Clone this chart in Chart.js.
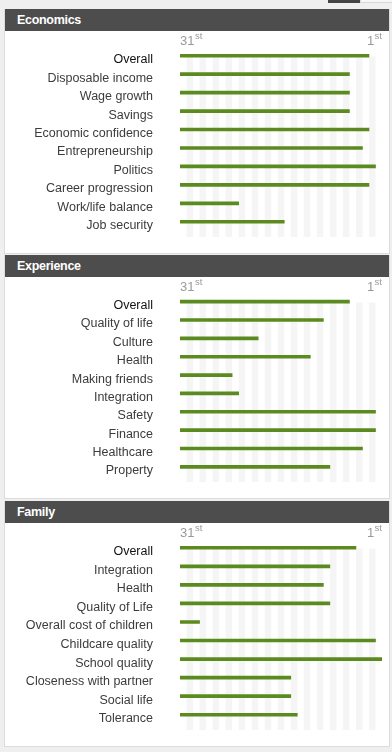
<!DOCTYPE html>
<html>
<head>
<meta charset="utf-8">
<script src="https://cdn.jsdelivr.net/npm/chart.js@4"></script>
<style>
  body { margin: 0; background: #efefef; width: 392px; height: 752px; overflow: hidden; font-family: "Liberation Sans", Arial, sans-serif; position: relative; }
  .tab { position: absolute; top: 0; left: 328px; width: 32px; height: 3px; background: #444; }
  .tab2 { position: absolute; top: 0; left: 360px; width: 32px; height: 2px; border: 1px solid #d8d8d8; border-top: 0; background: #f6f6f6; }
  .panel { position: absolute; left: 4px; width: 386px; background: #fff; border: 1px solid #dcdcdc; border-top: 0; box-sizing: border-box; }
  .panel h2 { margin: 0; height: 22px; line-height: 22px; background: #4d4d4d; color: #fff; font-size: 12.5px; font-weight: bold; padding-left: 12px; letter-spacing: -0.3px; }
  .panel canvas { display: block; }
</style>
</head>
<body>
<div class="tab"></div><div class="tab2"></div>
<div class="panel" style="top:9px"><h2>Economics</h2><canvas id="economics" width="384" height="222"></canvas></div>
<div class="panel" style="top:255px"><h2>Experience</h2><canvas id="experience" width="384" height="221"></canvas></div>
<div class="panel" style="top:501px"><h2>Family</h2><canvas id="family" width="384" height="223"></canvas></div>
<script>
// ranks out of 31 countries (1 = best)
const economicsLabels = ["Overall", "Disposable income", "Wage growth", "Savings", "Economic confidence",
  "Entrepreneurship", "Politics", "Career progression", "Work/life balance", "Job security"];
const economicsRanks = [3, 6, 6, 6, 3, 4, 2, 3, 23, 16];

const experienceLabels = ["Overall", "Quality of life", "Culture", "Health", "Making friends",
  "Integration", "Safety", "Finance", "Healthcare", "Property"];
const experienceRanks = [6, 10, 20, 12, 24, 23, 2, 2, 4, 9];

const familyLabels = ["Overall", "Integration", "Health", "Quality of Life", "Overall cost of children",
  "Childcare quality", "School quality", "Closeness with partner", "Social life", "Tolerance"];
const familyRanks = [5, 9, 10, 9, 29, 2, 1, 15, 15, 14];

const rankTicks = ["31", "1"];
const rankSuffix = "st";
const countries = 31;

const green = '#5b8a1f';

// light vertical stripes, one per rank
const stripes = {
  id: 'stripes',
  beforeDatasetsDraw(chart) {
    const {ctx, chartArea, scales: {x}} = chart;
    ctx.save();
    ctx.fillStyle = '#f5f5f5';
    for (let i = 1; i < countries; i += 2) {
      const x0 = x.getPixelForValue(i);
      const x1 = x.getPixelForValue(i + 1);
      ctx.fillRect(x0, chartArea.top + 10, x1 - x0, chartArea.bottom - chartArea.top - 4);
    }
    ctx.restore();
  }
};

// "31st" ... "1st" above the plot
const rankLabels = {
  id: 'rankLabels',
  afterDraw(chart) {
    const {ctx, scales: {x}} = chart;
    const y = 14;
    ctx.save();
    ctx.fillStyle = '#9a9a9a';
    ctx.textBaseline = 'alphabetic';
    // left
    ctx.textAlign = 'left';
    ctx.font = '13px "Liberation Sans", Arial';
    let left = x.getPixelForValue(0);
    ctx.fillText(rankTicks[0], left, y);
    let w = ctx.measureText(rankTicks[0]).width;
    ctx.font = '9.5px "Liberation Sans", Arial';
    ctx.fillText(rankSuffix, left + w + 0.5, y - 6);
    // right
    ctx.textAlign = 'right';
    const right = x.getPixelForValue(countries);
    ctx.fillText(rankSuffix, right, y - 6);
    const sw = ctx.measureText(rankSuffix).width;
    ctx.font = '13px "Liberation Sans", Arial';
    ctx.fillText(rankTicks[1], right - sw - 0.5, y);
    ctx.restore();
  }
};

function makeChart(id, labels, ranks) {
  return new Chart(document.getElementById(id), {
    type: 'bar',
    data: {
      labels: labels,
      datasets: [{
        data: ranks.map(r => countries + 1 - r),
        backgroundColor: green,
        barThickness: 3,
        borderWidth: 0
      }]
    },
    options: {
      indexAxis: 'y',
      responsive: false,
      animation: false,
      layout: { padding: { top: 15.5, right: 7, bottom: 22, left: 0 } },
      plugins: { legend: { display: false }, tooltip: { enabled: false } },
      scales: {
        x: { min: 0, max: countries, display: false },
        y: {
          grid: { display: false },
          border: { display: false },
          ticks: {
            padding: 19,
            labelOffset: 4,
            color: c => c.index === 0 ? '#111' : '#3c3c3c',
            font: { family: '"Liberation Sans", Arial', size: 12.5 }
          },
          afterFit(scale) {
            scale.width = 175;
            scale.paddingTop = 0;
            scale.paddingBottom = 0;
          }
        }
      }
    },
    plugins: [stripes, rankLabels]
  });
}

makeChart('economics', economicsLabels, economicsRanks);
makeChart('experience', experienceLabels, experienceRanks);
makeChart('family', familyLabels, familyRanks);
</script>
</body>
</html>
